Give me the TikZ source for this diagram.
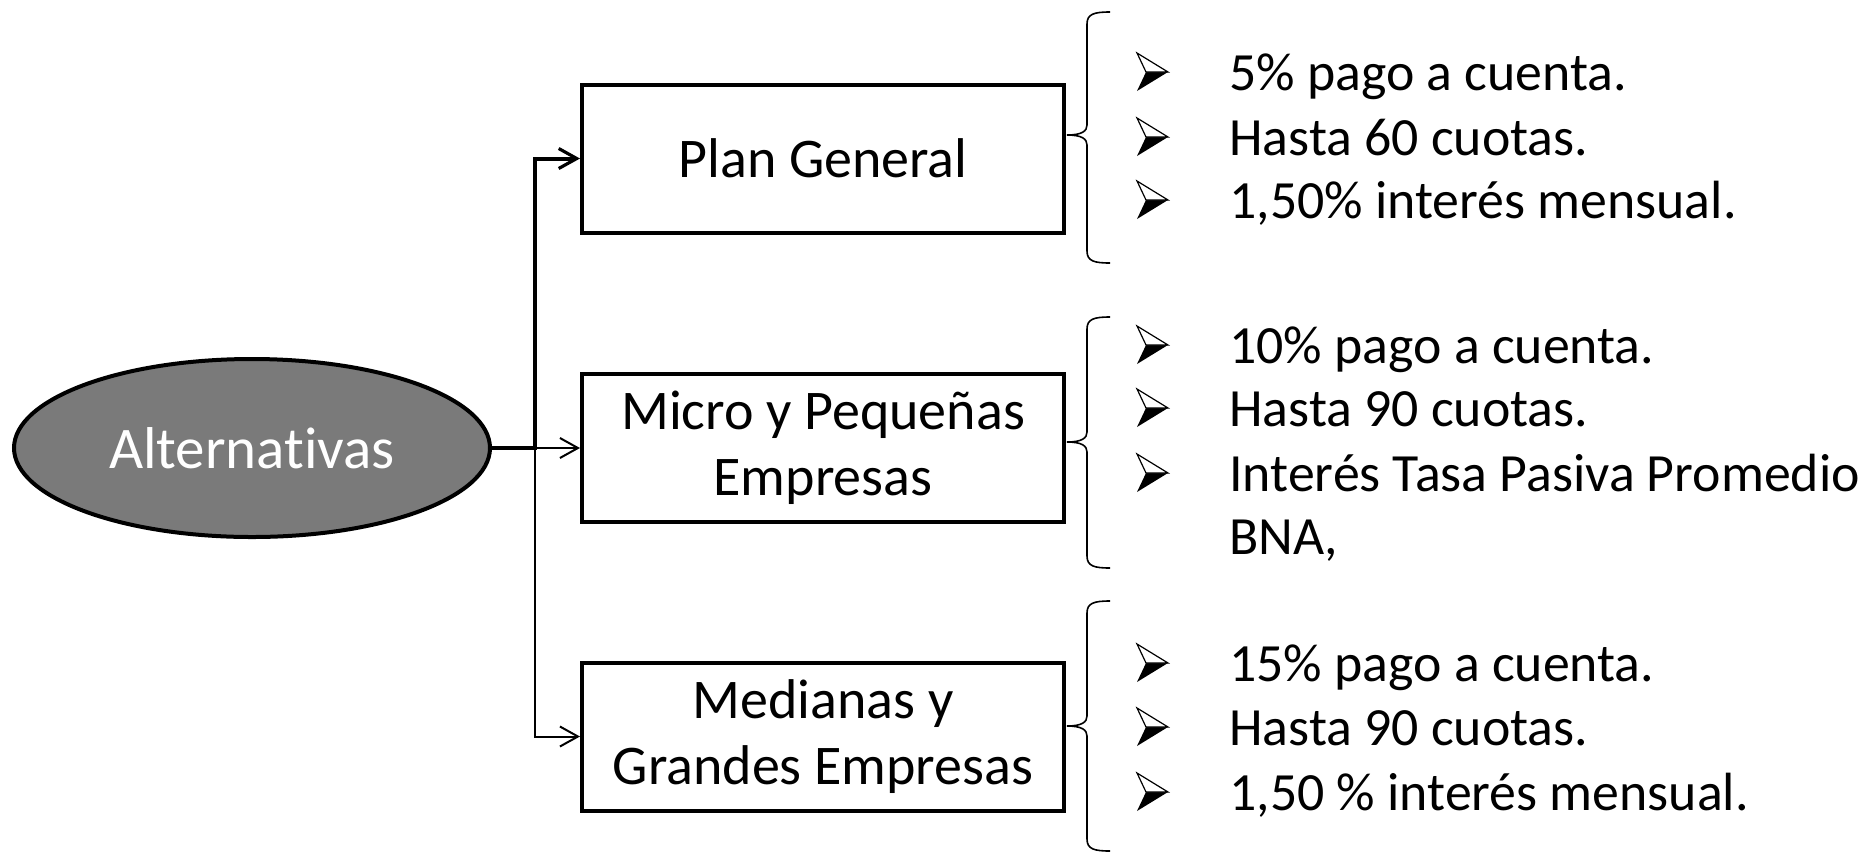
\documentclass[tikz,border=0pt]{standalone}
\usepackage{fontspec}
\setmainfont{Carlito}[RawFeature={-liga}]
\usetikzlibrary{arrows.meta,shapes.geometric}
\definecolor{ellgray}{RGB}{122,122,122}
\newcommand\mybrace[3]{%
  \draw[bracestyle] (1110,#1) .. controls (1094,#1) and (1087,#1+2) .. (1087,#1+12)
    -- (1087,#2-10) .. controls (1087,#2-4) and (1082,#2) .. (1067,#2)
    .. controls (1082,#2) and (1087,#2+4) .. (1087,#2+10)
    -- (1087,#3-12) .. controls (1087,#3-2) and (1094,#3) .. (1110,#3);}
\begin{document}
\begin{tikzpicture}[x=0.5pt,y=-0.5pt,
  box/.style={draw, line width=2pt, minimum width=241pt, minimum height=74pt,
    inner sep=0pt, align=center, font=\fontsize{28}{33}\selectfont},
  ell/.style={ellipse, draw, line width=2pt, fill=ellgray, minimum width=238pt,
    minimum height=89pt, inner sep=0pt, text=white, font=\fontsize{29.5}{33}\selectfont},
  item/.style={anchor=base west, inner sep=0pt, font=\fontsize{26.9}{32}\selectfont},
  conthick/.style={line width=2pt, -{Straight Barb[length=9pt,width=10pt,line width=1.6pt]}},
  conthin/.style={line width=1pt, -{Straight Barb[length=9pt,width=10pt,line width=1pt]}},
  bracestyle/.style={line width=0.8pt},
  bul/.pic={
    \fill[black] (-6,0) -- (16,0) -- (-15,19) -- cycle;
    \draw[line width=0.6pt, fill=white, line join=miter] (-15,-19) -- (16,0) -- (-6,0) -- cycle;
  }]
\useasboundingbox (0,0) rectangle (1874,853);

\node[ell] (alt) at (252,448) {Alternativas};
\node[box] (plan) at (823,158.5) {Plan General};
\node[box] (micro) at (823,448) {Micro y Pequeñas\\Empresas};
\node[box] (med) at (823,736.5) {Medianas y\\Grandes Empresas};

\coordinate (tr) at (535,448);
\draw[conthick] (alt.east) -- (tr) |- (plan.west);
\draw[conthin] (tr) -- (micro.west);
\draw[conthin] (tr) |- (med.west);

\mybrace{12}{135}{263}
\mybrace{317}{442}{568}
\mybrace{601}{726}{851}

\node[item] (l11) at (1229,90) {5\% pago a cuenta.};
\node[item] (l12) at (1229,155) {Hasta 60 cuotas.};
\node[item] (l13) at (1229,218) {1,50\% interés mensual.};
\node[item] (l21) at (1229,363) {10\% pago a cuenta.};
\node[item] (l22) at (1229,426) {Hasta 90 cuotas.};
\node[item] (l23) at (1229,491) {Interés Tasa Pasiva Promedio};
\node[item] (l24) at (1229,554) {BNA,};
\node[item] (l31) at (1229,681) {15\% pago a cuenta.};
\node[item] (l32) at (1229,745) {Hasta 90 cuotas.};
\node[item] (l33) at (1229,810) {1,50 \% interés mensual.};

\foreach \n in {l11,l12,l13,l21,l22,l23,l31,l32,l33}
  \pic at ([shift={(-77,-18)}]\n.base west) {bul};
\end{tikzpicture}
\end{document}
